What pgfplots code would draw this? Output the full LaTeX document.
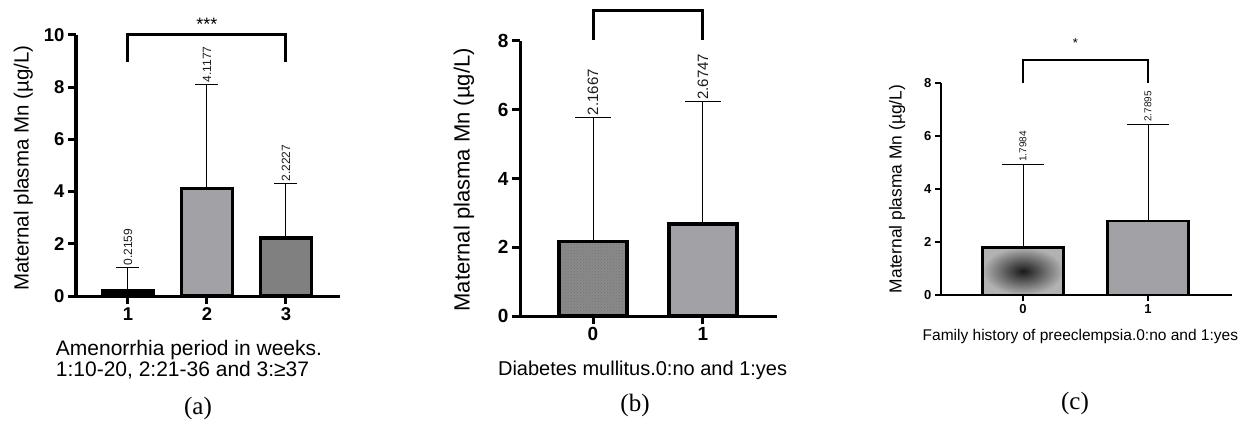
\documentclass[border=0pt]{standalone}
\usepackage{pgfplots}
\pgfplotsset{compat=1.18}
\usetikzlibrary{patterns}
\usepackage{fontspec}
\setmainfont{Liberation Sans}
\newfontfamily\capfont{Liberation Serif}
\definecolor{barA}{HTML}{A2A2A6}
\definecolor{barB}{HTML}{808080}
\definecolor{barC}{HTML}{8A8A8A}
\definecolor{txt}{HTML}{1A1A1A}
\newcommand{\fs}[1]{\fontsize{#1}{#1}\selectfont}
\pgfplotsset{
  panel/.style={
    scale only axis, clip=false,
    axis x line=bottom, axis y line=left,
    axis line style={-, line width=3pt, black},
    tick align=outside,
    major tick length=8pt,
    major tick style={line width=3pt, black},
    ymin=0,
    /pgf/number format/assume math mode=true,
    ylabel={Maternal plasma Mn (µg/L)},
  },
  errs/.style={draw=none, mark=none, forget plot,
    error bars/.cd, y dir=plus, y explicit,
    error bar style={draw=black, line width=1pt, solid},
    error mark=-,
    error mark options={rotate=90, mark size=#1, draw=black, line width=1pt, solid}},
}
\begin{document}
\begin{tikzpicture}[x=1pt,y=1pt]
\path[use as bounding box] (0pt,0pt) rectangle (1247pt,429pt);
% ---------------- (a)
\begin{axis}[panel,
  at={(76pt,133pt)}, anchor=south west,
  width=264pt, height=261pt,
  xmin=0.342, xmax=3.684, ymax=10,
  ytick={0,2,...,10},
  xtick={1,2,3}, xticklabels={1,2,3},
  tick label style={font=\bfseries\fs{18.5}},
  ylabel style={at={(axis description cs:-0.2,0.49)}, anchor=center, font=\fs{20.5}},
  xlabel={Amenorrhia period in weeks.\\1:10-20, 2:21-36 and 3:≥37},
  xlabel style={at={(axis description cs:0.428,-0.245)}, anchor=center, align=left, font=\fs{21}},
]
\addplot[ybar, bar width=51pt, bar shift=0pt, draw=black, line width=3.2pt, fill=black]
  coordinates {(1,0.2159)};
\addplot[ybar, bar width=51pt, bar shift=0pt, draw=black, line width=3.2pt, fill=barA]
  coordinates {(2,4.1177)};
\addplot[ybar, bar width=51pt, bar shift=0pt, draw=black, line width=3.2pt, fill=barB]
  coordinates {(3,2.2227)};
\addplot[errs=11.5pt] coordinates {(1,0.2159) +- (0,0.864) (2,4.1177) +- (0,3.98) (3,2.2227) +- (0,2.08)};
\addplot[line width=3pt, black, mark=none, line join=miter] coordinates {(1,8.97) (1,10) (3,10) (3,8.97)};
\node[font=\fs{18}] at (axis cs:2,10.42) {***};
\node[rotate=90, anchor=west, font=\fs{12}, text=txt, inner sep=2pt] at (axis cs:1,1.08) {0.2159};
\node[rotate=90, anchor=west, font=\fs{12}, text=txt, inner sep=2pt] at (axis cs:2,8.1) {4.1177};
\node[rotate=90, anchor=west, font=\fs{12}, text=txt, inner sep=2pt] at (axis cs:3,4.3) {2.2227};
\end{axis}
% ---------------- (b)
\begin{axis}[panel,
  at={(520pt,113pt)}, anchor=south west,
  width=257pt, height=275pt,
  xmin=-0.664, xmax=1.673, ymax=8,
  ytick={0,2,...,8},
  xtick={0,1}, xticklabels={0,1},
  tick label style={font=\bfseries\fs{19}},
  ylabel style={at={(axis description cs:-0.218,0.495)}, anchor=center, font=\fs{22}},
  xlabel={Diabetes mullitus.0:no and 1:yes},
  xlabel style={at={(axis description cs:0.477,-0.196)}, anchor=center, font=\fs{20}},
]
\addplot[ybar, bar width=68pt, bar shift=0pt, draw=black, line width=3.2pt, fill=barC,
  postaction={pattern=crosshatch dots, pattern color=black!55}]
  coordinates {(0,2.1667)};
\addplot[ybar, bar width=68pt, bar shift=0pt, draw=black, line width=3.2pt, fill=barA]
  coordinates {(1,2.6747)};
\addplot[errs=18pt] coordinates {(0,2.1667) +- (0,3.61) (1,2.6747) +- (0,3.56)};
\addplot[line width=3pt, black, mark=none, line join=miter] coordinates {(0,8.02) (0,8.9) (1,8.9) (1,8.02)};
\node[font=\fs{16}] at (axis cs:0.5,9.2) {*};
\node[rotate=90, anchor=west, font=\fs{15}, text=txt, inner sep=2pt] at (axis cs:0,5.78) {2.1667};
\node[rotate=90, anchor=west, font=\fs{15}, text=txt, inner sep=2pt] at (axis cs:1,6.23) {2.6747};
\end{axis}
% ---------------- (c)
\begin{axis}[panel,
  at={(941pt,134pt)}, anchor=south west,
  width=291pt, height=212pt,
  xmin=-0.656, xmax=1.672, ymax=8,
  axis line style={-, line width=2.5pt, black},
  major tick style={line width=2.5pt, black},
  major tick length=6pt,
  ytick={0,2,...,8},
  xtick={0,1}, xticklabels={0,1},
  tick label style={font=\bfseries\fs{13}},
  ylabel style={at={(axis description cs:-0.151,0.5)}, anchor=center, font=\fs{17.4}},
  xlabel={Family history of preeclempsia.0:no and 1:yes},
  xlabel style={at={(axis description cs:0.479,-0.198)}, anchor=center, font=\fs{15.5}},
]
\addplot[ybar, bar width=81pt, bar shift=0pt, draw=black, line width=2.7pt,
  inner color=black!90, outer color=black!30]
  coordinates {(0,1.7984)};
\addplot[ybar, bar width=81pt, bar shift=0pt, draw=black, line width=2.7pt, fill=barA]
  coordinates {(1,2.7895)};
\addplot[errs=21pt] coordinates {(0,1.7984) +- (0,3.14) (1,2.7895) +- (0,3.66)};
\addplot[line width=2.5pt, black, mark=none, line join=miter] coordinates {(0,8.0) (0,8.87) (1,8.87) (1,8.0)};
\node[font=\fs{13}] at (axis cs:0.42,9.5) {*};
\node[rotate=90, anchor=west, font=\fs{10}, text=txt, inner sep=2pt] at (axis cs:0,4.94) {1.7984};
\node[rotate=90, anchor=west, font=\fs{10}, text=txt, inner sep=2pt] at (axis cs:1,6.45) {2.7895};
\end{axis}
% captions
\node[font=\capfont\fs{25}] at (198pt,21pt) {(a)};
\node[font=\capfont\fs{25}] at (635pt,24pt) {(b)};
\node[font=\capfont\fs{25}] at (1075pt,26pt) {(c)};
\end{tikzpicture}
\end{document}
